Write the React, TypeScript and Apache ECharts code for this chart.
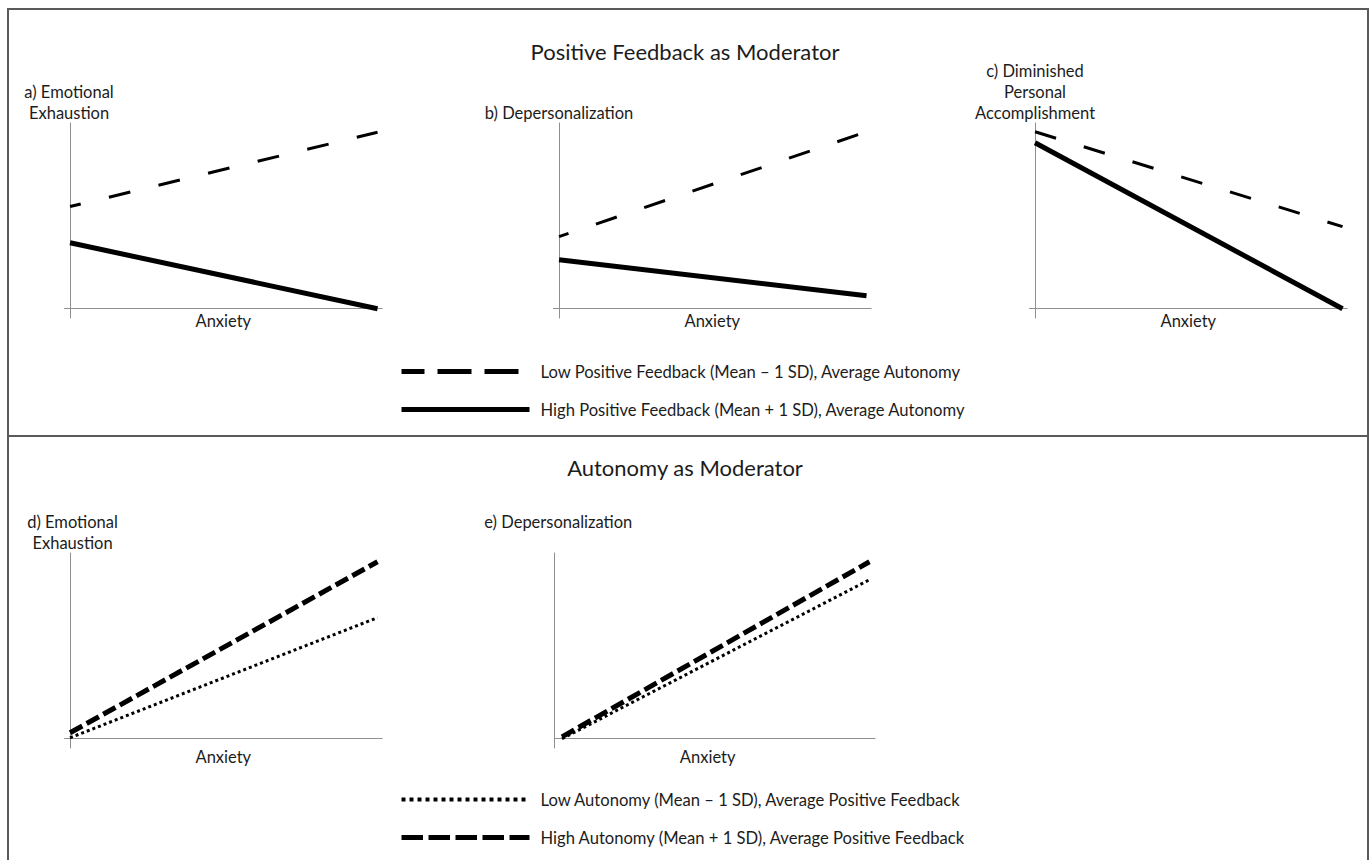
import React, { useEffect, useRef } from "react";
import * as echarts from "echarts";

// ---------- data ----------
const anxietyLevels = [0, 10]; // low -> high anxiety (x endpoints)

// Positive Feedback as Moderator
const eeLowPositiveFeedback = [5.5, 9.5];
const eeHighPositiveFeedback = [3.55, 0.0];
const dpLowPositiveFeedback = [3.88, 9.53];
const dpHighPositiveFeedback = [2.64, 0.7];
const dpaLowPositiveFeedback = [9.53, 4.42];
const dpaHighPositiveFeedback = [8.94, 0.0];

// Autonomy as Moderator
const eeLowAutonomy = [0.05, 6.52];
const eeHighAutonomy = [0.32, 9.53];
const dpLowAutonomy = [0.0, 8.56];
const dpHighAutonomy = [0.1, 9.53];

const topTitle = "Positive Feedback as Moderator";
const bottomTitle = "Autonomy as Moderator";
const xAxisLabel = "Anxiety";
const panelLabels = [
  "a) Emotional\nExhaustion",
  "b) Depersonalization",
  "c) Diminished\nPersonal\nAccomplishment",
  "d) Emotional\nExhaustion",
  "e) Depersonalization",
];
const nameLowPF = "Low Positive Feedback (Mean – 1 SD), Average Autonomy";
const nameHighPF = "High Positive Feedback (Mean + 1 SD), Average Autonomy";
const nameLowAut = "Low Autonomy (Mean – 1 SD), Average Positive Feedback";
const nameHighAut = "High Autonomy (Mean + 1 SD), Average Positive Feedback";

// ---------- layout / style ----------
const FONT = "Lato, 'Open Sans', sans-serif";
const TEXT = "#1c1c1c";
const AXIS = "#8f8f8f";
const PX_X = 30.75;
const PANEL_H = 195;

const panels = [
  { left: 64.5, top: 123, xMin: -0.18, xMax: 10.15, onZero: true, nameGap: 0, namePad: [0, 2, 0, 0], xGap: -6, xPad: [0, 0, 0, 0] },
  { left: 553.5, top: 123, xMin: -0.18, xMax: 10.15, onZero: true, nameGap: 0, namePad: [0, 0, 0, 0], xGap: -6, xPad: [0, 0, 0, 0] },
  { left: 1029.5, top: 123, xMin: -0.18, xMax: 10.15, onZero: true, nameGap: 0, namePad: [0, 0, 0, 0], xGap: -6, xPad: [0, 0, 0, 0] },
  { left: 64.5, top: 553, xMin: -0.18, xMax: 10.15, onZero: true, nameGap: 0, namePad: [0, 0, 0, 5], xGap: 0, xPad: [0, 0, 0, 0] },
  { left: 554.3, top: 553, xMin: -0.25, xMax: 10.18, onZero: false, nameGap: 21, namePad: [0, 0, 0, 8], xGap: 0, xPad: [0, 14, 0, 0] },
];

const pts = (ys: number[]) => anxietyLevels.map((x, i) => [x, ys[i]]);

const lowPFStyle = (offset: number) => ({ color: "#000", width: 3, type: [22, 29], dashOffset: offset, cap: "butt" });
const highPFStyle = { color: "#000", width: 5, type: "solid" };
const lowAutStyle = { color: "#000", width: 3, type: [3, 3], cap: "butt" };
const highAutStyle = { color: "#000", width: 5, type: [14, 5], cap: "butt" };

function line(name: string, idx: number, ys: number[], lineStyle: any) {
  return {
    type: "line",
    name,
    xAxisIndex: idx,
    yAxisIndex: idx,
    data: pts(ys),
    symbol: "none",
    showSymbol: false,
    silent: true,
    lineStyle,
    itemStyle: { color: "#000" },
  };
}

export default function App() {
  const ref = useRef<HTMLDivElement>(null);
  useEffect(() => {
    document.body.style.margin = "0";
    const chart = echarts.init(ref.current!, undefined, { renderer: "svg" });
    const grid = panels.map((p) => ({
      left: p.left,
      top: p.top,
      width: (p.xMax - p.xMin) * PX_X,
      height: PANEL_H,
      containLabel: false,
    }));
    const xAxis = panels.map((p, i) => ({
      type: "value",
      gridIndex: i,
      min: p.xMin,
      max: p.xMax,
      name: xAxisLabel,
      nameLocation: "middle",
      nameGap: p.xGap,
      nameTextStyle: { fontFamily: FONT, fontSize: 16.5, color: TEXT, verticalAlign: "top", padding: p.xPad },
      axisLine: { show: true, onZero: true, lineStyle: { color: AXIS, width: 1 } },
      axisTick: { show: false },
      axisLabel: { show: false },
      splitLine: { show: false },
    }));
    const yAxis = panels.map((p, i) => ({
      type: "value",
      gridIndex: i,
      min: -0.5,
      max: 10,
      name: panelLabels[i],
      nameLocation: "end",
      nameGap: p.nameGap,
      nameTextStyle: {
        fontFamily: FONT,
        fontSize: 16.5,
        color: TEXT,
        align: "center",
        lineHeight: 21,
        padding: p.namePad,
      },
      axisLine: { show: true, onZero: p.onZero, lineStyle: { color: AXIS, width: 1 } },
      axisTick: { show: false },
      axisLabel: { show: false },
      splitLine: { show: false },
    }));
    const series = [
      line(nameLowPF, 0, eeLowPositiveFeedback, lowPFStyle(11)),
      line(nameHighPF, 0, eeHighPositiveFeedback, highPFStyle),
      line(nameLowPF, 1, dpLowPositiveFeedback, lowPFStyle(12)),
      line(nameHighPF, 1, dpHighPositiveFeedback, highPFStyle),
      line(nameLowPF, 2, dpaLowPositiveFeedback, lowPFStyle(0)),
      line(nameHighPF, 2, dpaHighPositiveFeedback, highPFStyle),
      line(nameLowAut, 3, eeLowAutonomy, lowAutStyle),
      line(nameHighAut, 3, eeHighAutonomy, highAutStyle),
      line(nameLowAut, 4, dpLowAutonomy, lowAutStyle),
      line(nameHighAut, 4, dpHighAutonomy, highAutStyle),
    ];
    const legendBase = {
      orient: "vertical",
      left: 399,
      itemWidth: 128,
      itemHeight: 14,
      itemGap: 21,
      padding: 0,
      selectedMode: false,
      textStyle: { fontFamily: FONT, fontSize: 16.6, color: TEXT, padding: [0, 0, 0, 6] },
    };
    const hidden = { opacity: 0, color: "rgba(0,0,0,0)", borderWidth: 0 };
    const titleStyle = { fontFamily: FONT, fontSize: 22, fontWeight: "normal", color: TEXT };
    chart.setOption({
      animation: false,
      backgroundColor: "#ffffff",
      title: [
        { text: topTitle, left: "center", top: 40, padding: 0, textStyle: titleStyle },
        { text: bottomTitle, left: "center", top: 456, padding: 0, textStyle: titleStyle },
      ],
      legend: [
        {
          ...legendBase,
          top: 363,
          data: [
            { name: nameLowPF, lineStyle: { width: 5, type: [34, 13], color: "#000" }, itemStyle: hidden },
            { name: nameHighPF, lineStyle: { width: 5, type: "solid", color: "#000" }, itemStyle: hidden },
          ],
        },
        {
          ...legendBase,
          top: 791,
          data: [
            { name: nameLowAut, lineStyle: { width: 4, type: [4, 4], color: "#000" }, itemStyle: hidden },
            { name: nameHighAut, lineStyle: { width: 5, type: [21.5, 5.5], color: "#000" }, itemStyle: hidden },
          ],
        },
      ],
      grid,
      xAxis,
      yAxis,
      series,
      graphic: [
        { type: "rect", shape: { x: 8, y: 9, width: 1360, height: 900 }, style: { fill: "none", stroke: "#5a5a5a", lineWidth: 2 }, silent: true },
        { type: "line", shape: { x1: 8, y1: 436, x2: 1368, y2: 436 }, style: { stroke: "#5a5a5a", lineWidth: 2 }, silent: true },
      ],
    });
    return () => chart.dispose();
  }, []);
  return <div ref={ref} style={{ width: 1370, height: 860 }} />;
}
